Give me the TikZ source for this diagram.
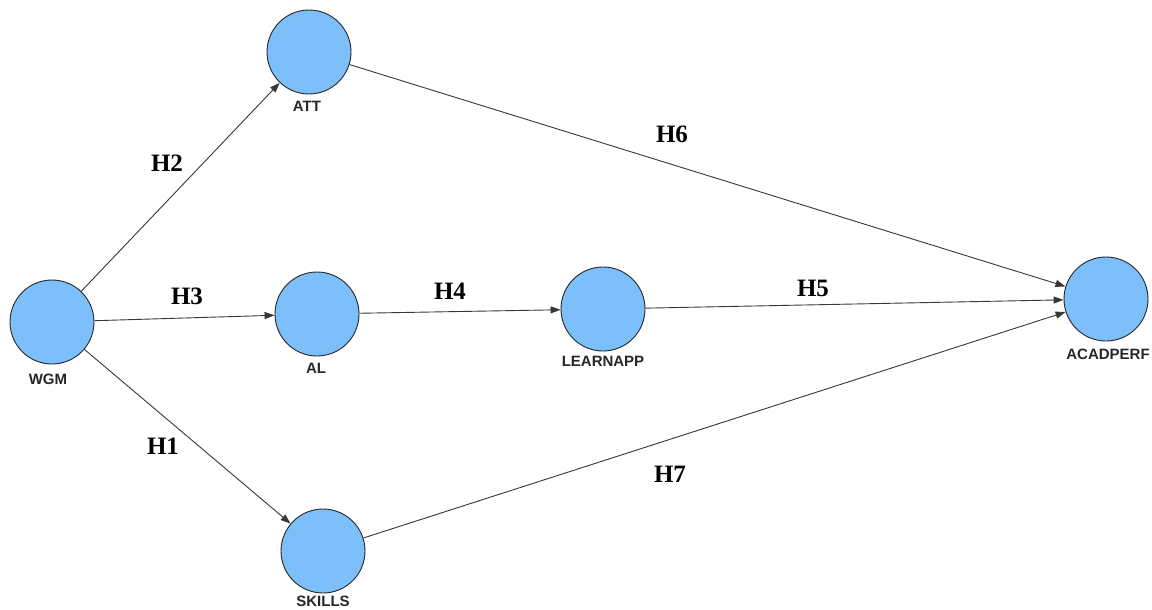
\documentclass[tikz,border=0pt]{standalone}
\usepackage{fontspec}
\setmainfont{Liberation Serif}
\newfontfamily\lblfont{Liberation Sans}
\usetikzlibrary{arrows.meta}
\definecolor{nodeblue}{RGB}{125,191,250}
\definecolor{edgegray}{RGB}{55,55,55}
\tikzset{
  lv/.style={circle, draw=black!85, line width=0.9pt, fill=nodeblue, minimum size=84pt, inner sep=0pt},
  lvlabel/.style={font=\lblfont\bfseries\fontsize{15}{15}\selectfont, text=black!85, inner sep=0pt},
  hyp/.style={font=\bfseries\fontsize{25}{25}\selectfont, inner sep=0pt},
  path/.style={draw=edgegray, line width=0.9pt, -{Triangle[length=10pt,width=7pt]}, shorten >=0pt}
}
\begin{document}
\begin{tikzpicture}[x=1pt,y=-1pt]
\useasboundingbox (0,0) rectangle (1152,610);
\node[lv] (WGM) at (52,322) {};
\node[lv] (ATT) at (309,52) {};
\node[lv] (AL) at (317,314) {};
\node[lv] (LEARNAPP) at (603,309) {};
\node[lv] (ACADPERF) at (1106,299) {};
\node[lv] (SKILLS) at (323,551) {};
\node[lvlabel] (lWGM) at (48,379) {WGM};
\node[lvlabel] (lATT) at (307,106) {ATT};
\node[lvlabel] (lAL) at (316,368) {AL};
\node[lvlabel] (lLEARNAPP) at (603,361) {LEARNAPP};
\node[lvlabel] (lACADPERF) at (1108,354) {ACADPERF};
\node[lvlabel] (lSKILLS) at (323,601) {SKILLS};
\draw[path] (WGM) -- (ATT);
\draw[path] (WGM) -- (AL);
\draw[path] (WGM) -- (SKILLS);
\draw[path] (AL) -- (LEARNAPP);
\draw[path] (LEARNAPP) -- (ACADPERF);
\draw[path] (ATT) -- (ACADPERF);
\draw[path] (SKILLS) -- (ACADPERF);
\node[hyp] (H2) at (167,163) {H2};
\node[hyp] (H3) at (187,296) {H3};
\node[hyp] (H1) at (163,446) {H1};
\node[hyp] (H4) at (450,291) {H4};
\node[hyp] (H5) at (813,288) {H5};
\node[hyp] (H6) at (672,134) {H6};
\node[hyp] (H7) at (670,474) {H7};
\end{tikzpicture}
\end{document}
